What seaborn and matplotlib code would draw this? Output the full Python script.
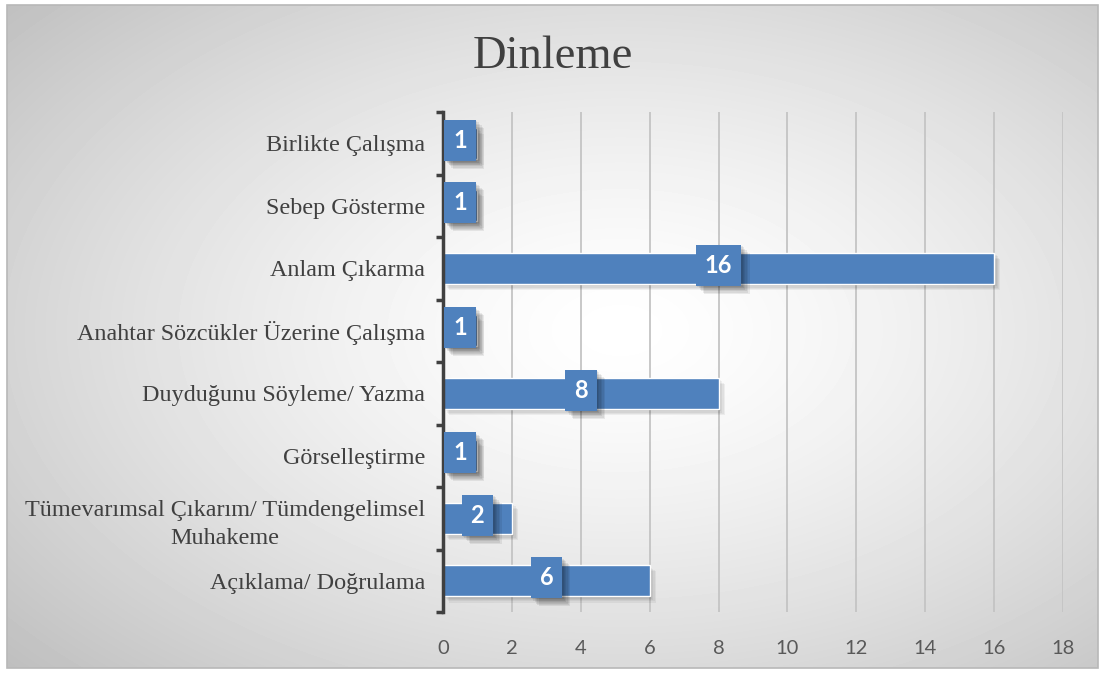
import numpy as np
import pandas as pd
import seaborn as sns
import matplotlib.pyplot as plt
import matplotlib.patheffects as pe
from matplotlib.patches import Rectangle

categories = [
    "Birlikte Çalışma",
    "Sebep Gösterme",
    "Anlam Çıkarma",
    "Anahtar Sözcükler Üzerine Çalışma",
    "Duyduğunu Söyleme/ Yazma",
    "Görselleştirme",
    "Tümevarımsal Çıkarım/ Tümdengelimsel\nMuhakeme",
    "Açıklama/ Doğrulama",
]
values = [1, 1, 16, 1, 8, 1, 2, 6]
x_ticks = [0, 2, 4, 6, 8, 10, 12, 14, 16, 18]
title = "Dinleme"

df = pd.DataFrame({"cat": categories, "val": values})

sns.set_theme(style="white")
W, H = 1105, 674
fig = plt.figure(figsize=(W / 100, H / 100), dpi=100)
fig.patch.set_facecolor("white")

# background gradient
bg = fig.add_axes([0, 0, 1, 1], zorder=-10)
bg.set_xlim(0, W)
bg.set_ylim(H, 0)
bg.axis("off")
x0, x1, y0, y1 = 7, 1098, 5, 668
yy, xx = np.mgrid[y0:y1, x0:x1]
cx, cy = 620, 330
dx = (xx - cx) / ((x1 - x0) / 2)
dy = (yy - cy) / ((y1 - y0) / 2)
r = np.sqrt(dx ** 2 + dy ** 2) / np.sqrt(2)
val = 1 - 0.23 * np.clip(r, 0, 1.2) ** 1.4
bg.imshow(val, cmap="gray", vmin=0, vmax=1, extent=(x0, x1, y1, y0),
          interpolation="bilinear", aspect="auto")
bg.add_patch(Rectangle((x0, y0), x1 - x0, y1 - y0, fill=False,
                       ec="#b8b8b8", lw=1.2))


def soft_shadow(alpha_each=0.07, n=5, step=0.9):
    effs = []
    for k in range(1, n + 1):
        effs.append(pe.SimplePatchShadow(offset=(k * step, -k * step),
                                         shadow_rgbFace="black", alpha=alpha_each))
    effs.append(pe.Normal())
    return effs


ax = fig.add_axes([443 / W, 1 - 612 / H, (1063 - 443) / W, (612 - 112) / H])
ax.set_facecolor("none")

sns.barplot(data=df, x="val", y="cat", orient="h", color="#4F81BD",
            width=0.5, saturation=1, ax=ax, zorder=3)

for p in ax.patches:
    p.set_path_effects(soft_shadow(0.05))

ax.set_xlim(0, 18)
ax.set_ylim(len(categories) - 0.5, -0.5)
ax.set_xticks(x_ticks)
ax.set_xlabel("")
ax.set_ylabel("")
ax.grid(axis="x", color="#c4c4c4", lw=1.3, zorder=0)
ax.grid(axis="y", visible=False)
for s in ["top", "right", "bottom"]:
    ax.spines[s].set_visible(False)
ax.spines["left"].set_color("#404040")
ax.spines["left"].set_linewidth(2.5)
ax.spines["left"].set_zorder(5)

ax.set_yticks(np.arange(-0.5, len(categories) + 0.5, 1), minor=True)
ax.tick_params(axis="y", which="minor", length=5, width=2.5, color="#404040", direction="out", left=True)
ax.tick_params(axis="y", which="major", length=0, pad=13, labelcolor="#404040")
ax.tick_params(axis="x", length=0, pad=20, labelcolor="#595959")

for lab in ax.get_yticklabels():
    lab.set_fontfamily("Liberation Serif")
    lab.set_fontsize(17.4)
    lab.set_multialignment("center")
    lab.set_linespacing(1.45)
for lab in ax.get_xticklabels():
    lab.set_fontfamily("Lato")
    lab.set_fontsize(14.5)

for i, v in enumerate(values):
    t = ax.text(v / 2, i - 0.05, str(v), ha="center", va="center", color="white",
                fontfamily="Lato", fontweight="bold", fontsize=17, zorder=6,
                bbox=dict(boxstyle="square,pad=0.38", fc="#4F81BD", ec="none"))
    t.get_bbox_patch().set_path_effects(soft_shadow(0.07, n=6, step=1.0))

fig.text(0.5, 1 - 68 / H, title, ha="center", va="baseline",
         fontfamily="Liberation Serif", fontsize=33.5, color="#404040")

fig.savefig("out.png", dpi=100)
